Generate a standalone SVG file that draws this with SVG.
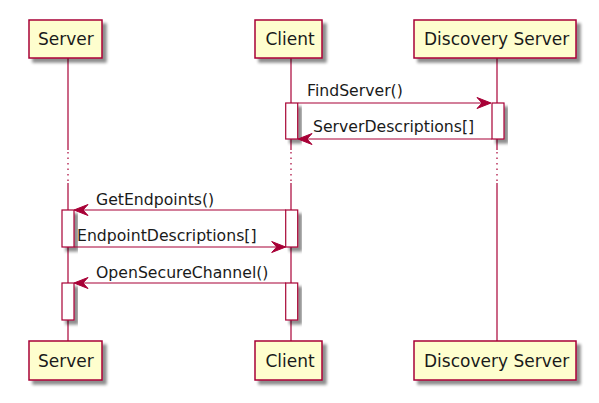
<svg xmlns="http://www.w3.org/2000/svg" width="599" height="403" viewBox="0 0 599 403">
<defs>
<filter id="sh" x="-20%" y="-20%" width="150%" height="160%">
<feGaussianBlur in="SourceAlpha" stdDeviation="1.8"/>
<feOffset dx="4" dy="4" result="b"/>
<feComponentTransfer><feFuncA type="linear" slope="0.45"/></feComponentTransfer>
<feMerge><feMergeNode/><feMergeNode in="SourceGraphic"/></feMerge>
</filter>
</defs>
<style>
.part{fill:#FEFECE;stroke:#A80036;stroke-width:1.5;filter:url(#sh)}
.act{fill:#FFFFFF;stroke:#A80036;stroke-width:1.2;filter:url(#sh)}
.life{stroke:#A80036;stroke-width:1.2;fill:none}
.dot{stroke:#A80036;stroke-width:1.2;fill:none;stroke-dasharray:1.5,4}
.msg{stroke:#A80036;stroke-width:1.2;fill:none}
.head{fill:#A80036;stroke:#A80036;stroke-width:1}
.pt{font-family:"DejaVu Sans",sans-serif;font-size:17px;fill:#1a1a1a}
.mt{font-family:"DejaVu Sans",sans-serif;font-size:15.7px;fill:#1a1a1a}
</style>
<rect width="599" height="403" fill="#FFFFFF"/>
<g id="lifelines">
<line class="life" x1="68" y1="58" x2="68" y2="150"/>
<line class="dot" x1="68" y1="152" x2="68" y2="183"/>
<line class="life" x1="68" y1="183" x2="68" y2="341"/>
<line class="life" x1="291" y1="58" x2="291" y2="150"/>
<line class="dot" x1="291" y1="152" x2="291" y2="183"/>
<line class="life" x1="291" y1="183" x2="291" y2="341"/>
<line class="life" x1="497" y1="58" x2="497" y2="150"/>
<line class="dot" x1="497" y1="152" x2="497" y2="183"/>
<line class="life" x1="497" y1="183" x2="497" y2="341"/>
</g>
<g id="activations">
<rect class="act" x="285.7" y="103" width="12" height="36"/>
<rect class="act" x="492" y="103" width="12" height="36"/>
<rect class="act" x="62" y="210" width="12" height="37"/>
<rect class="act" x="285.7" y="210" width="12" height="37"/>
<rect class="act" x="62" y="283" width="12" height="37"/>
<rect class="act" x="285.7" y="283" width="12" height="37"/>
</g>
<g id="server-top"><rect class="part" x="29" y="20" width="73" height="38"/><text class="pt" x="38" y="45">Server</text></g>
<g id="client-top"><rect class="part" x="255" y="20" width="67" height="38"/><text class="pt" x="265.5" y="45">Client</text></g>
<g id="discovery-top"><rect class="part" x="414" y="20" width="162" height="38"/><text class="pt" x="424" y="45">Discovery Server</text></g>
<g id="server-bottom"><rect class="part" x="29" y="341" width="73" height="39"/><text class="pt" x="38" y="366.5">Server</text></g>
<g id="client-bottom"><rect class="part" x="255" y="341" width="67" height="39"/><text class="pt" x="265.5" y="366.5">Client</text></g>
<g id="discovery-bottom"><rect class="part" x="414" y="341" width="162" height="39"/><text class="pt" x="424" y="366.5">Discovery Server</text></g>
<g id="connectors">
<line class="msg" x1="298" y1="103" x2="490" y2="103"/>
<polygon class="head" points="491,103 477,97.5 482,103 477,108.5"/>
<text class="mt" x="307" y="96">FindServer()</text>
<line class="msg" x1="492" y1="139" x2="300" y2="139"/>
<polygon class="head" points="298,139 312,133.5 307,139 312,144.5"/>
<text class="mt" x="313" y="132">ServerDescriptions[]</text>
<line class="msg" x1="286" y1="210" x2="76" y2="210"/>
<polygon class="head" points="74,210 88,204.5 83,210 88,215.5"/>
<text class="mt" x="96" y="205">GetEndpoints()</text>
<line class="msg" x1="74" y1="247" x2="284" y2="247"/>
<polygon class="head" points="285.7,247 271.7,241.5 276.7,247 271.7,252.5"/>
<text class="mt" x="77" y="241">EndpointDescriptions[]</text>
<line class="msg" x1="286" y1="283" x2="76" y2="283"/>
<polygon class="head" points="74,283 88,277.5 83,283 88,288.5"/>
<text class="mt" x="96" y="278">OpenSecureChannel()</text>
</g>
</svg>
